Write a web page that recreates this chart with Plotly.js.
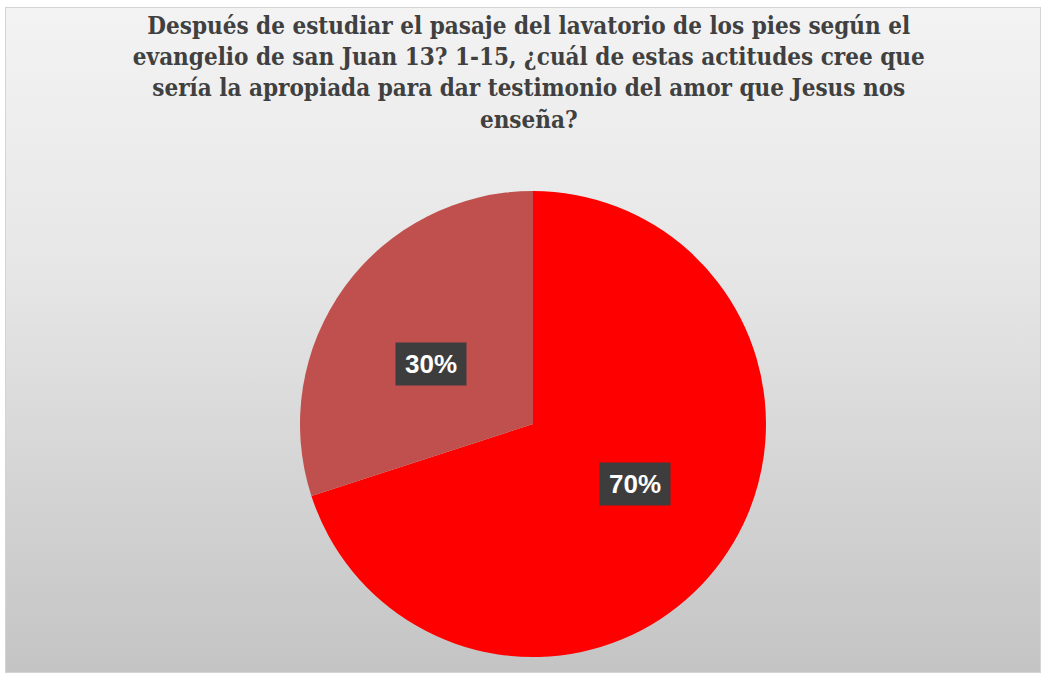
<!DOCTYPE html>
<html>
<head>
<meta charset="utf-8">
<script src="https://cdn.plot.ly/plotly-3.0.1.min.js"></script>
<style>
  html, body { margin: 0; padding: 0; background: #ffffff; }
  #wrap { position: relative; width: 1045px; height: 678px; overflow: hidden; }
  #bg { position: absolute; left: 5px; top: 7px; width: 1034px; height: 664px;
        border: 1px solid #d4d4d4;
        background: linear-gradient(to bottom, #f3f3f3 0%, #e6e6e6 40%, #c4c4c4 100%); }
  #chart { position: absolute; left: 0; top: 0; width: 1045px; height: 678px; }
</style>
</head>
<body>
<div id="wrap">
  <div id="bg"></div>
  <div id="chart"></div>
</div>
<script>
const categories = ['Opción A', 'Opción B'];
const values = [70, 30];
const sliceColors = ['#FF0000', '#C0504D'];
const titleText = 'Después de estudiar el pasaje del lavatorio de los pies según el<br>evangelio de san Juan 13? 1-15, ¿cuál de estas actitudes cree que<br>sería la apropiada para dar testimonio del amor que Jesus nos<br>enseña?';

const W = 1045, H = 678;
const dom = { x: [300 / W, 766 / W], y: [1 - 657 / H, 1 - 191 / H] };
const cxP = (dom.x[0] + dom.x[1]) / 2, cyP = (dom.y[0] + dom.y[1]) / 2;
const rPx = Math.min((dom.x[1] - dom.x[0]) * W, (dom.y[1] - dom.y[0]) * H) / 2;

const total = values.reduce((a, b) => a + b, 0);
const annotations = [];
let acc = 0;
values.forEach((v, i) => {
  const mid = (acc + v / 2) / total * 2 * Math.PI; // clockwise from top
  acc += v;
  annotations.push({
    xref: 'paper', yref: 'paper',
    x: cxP + 0.54 * rPx * Math.sin(mid) / W,
    y: cyP + 0.44 * rPx * Math.cos(mid) / H,
    text: '<b>' + Math.round(v / total * 100) + '%</b>',
    showarrow: false,
    font: { family: 'Liberation Sans, Arial, sans-serif', size: 26, color: '#ffffff' },
    bgcolor: '#3d3d3d',
    borderpad: 1,
    width: 68, height: 40,
    align: 'center', valign: 'middle',
    xanchor: 'center', yanchor: 'middle'
  });
});

const data = [{
  type: 'pie',
  labels: categories,
  values: values,
  sort: false,
  direction: 'clockwise',
  rotation: 0,
  marker: { colors: sliceColors, line: { width: 0 } },
  textinfo: 'none',
  hoverinfo: 'none',
  domain: dom,
  showlegend: false
}];

const layout = {
  width: W, height: H,
  margin: { l: 0, r: 0, t: 0, b: 0 },
  paper_bgcolor: 'rgba(0,0,0,0)',
  plot_bgcolor: 'rgba(0,0,0,0)',
  showlegend: false,
  title: {
    text: '<b>' + titleText + '</b>',
    font: { family: 'DejaVu Serif Condensed, Liberation Serif, serif', size: 24, color: '#404040' },
    x: 0.506, xanchor: 'center',
    yref: 'container', y: 1 - 34 / H, yanchor: 'top'
  },
  annotations: annotations
};

Plotly.newPlot('chart', data, layout, { displayModeBar: false, staticPlot: true });
</script>
</body>
</html>
